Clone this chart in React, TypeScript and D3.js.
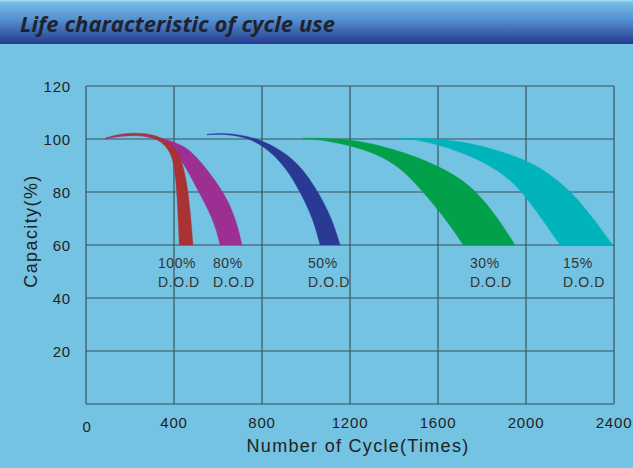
import React from 'react';
import * as d3 from 'd3';

// ---------- data ----------
const xTicks = [0, 400, 800, 1200, 1600, 2000, 2400];
const yTicks = [20, 40, 60, 80, 100, 120];
const gridX = [0, 400, 800, 1200, 1600, 2000, 2400];
const gridY = [0, 20, 40, 60, 80, 100, 120];

const dodNames = ['100%', '80%', '50%', '30%', '15%'];
const labelCycle = [327, 577, 1009, 1745, 2168];

const dod100Outer = [[86, 100.3], [150, 101.9], [236, 102.4], [310, 101.6], [360, 99.6], [405, 96.6], [432, 92.8], [452, 86], [464, 80], [477, 70], [486, 60]];
const dod100Inner = [[86, 100.1], [150, 101.4], [236, 101.8], [300, 100.8], [340, 99], [373, 96.3], [393, 92.8], [405, 87], [413, 80], [419, 70], [424, 60]];

const dod80Outer = [[90, 100.3], [170, 101.6], [236, 101.9], [320, 100.9], [380, 99.5], [430, 97.8], [459, 96.5], [505, 93], [565, 87], [623, 80], [660, 74], [690, 67], [709, 60]];
const dod80Inner = [[90, 100.1], [170, 101.2], [236, 101.4], [300, 100.5], [350, 99], [390, 96.8], [427, 92.8], [470, 86.8], [509, 80.5], [545, 75], [573, 70], [595, 65], [609, 60]];

const dod50Outer = [[550, 101.8], [620, 102.3], [700, 101.6], [782, 100], [860, 97], [936, 92.8], [1000, 87], [1055, 80], [1118, 70], [1155, 60]];
const dod50Inner = [[550, 101.6], [620, 101.9], [700, 101.0], [745, 100], [810, 97], [868, 92.8], [925, 87], [973, 80], [1032, 70], [1064, 60]];

const dod30Outer = [[985, 100.3], [1100, 100.3], [1200, 99.7], [1300, 98.3], [1400, 96.0], [1500, 93.3], [1600, 89.8], [1700, 85.2], [1780, 79.7], [1870, 70.5], [1950, 60]];
const dod30Inner = [[985, 100.1], [1060, 99.8], [1200, 97.6], [1300, 94.9], [1385, 91.5], [1460, 86.7], [1533, 79.9], [1632, 70.1], [1715, 60]];

const dod15Outer = [[1427, 100.3], [1550, 100.3], [1700, 99.2], [1836, 96.6], [2000, 92.2], [2105, 87], [2208, 80], [2306, 70], [2394, 60]];
const dod15Inner = [[1427, 100.1], [1500, 99.8], [1600, 97.8], [1700, 95.2], [1800, 91.6], [1880, 87.6], [1940, 83.6], [1990, 79.2], [2071, 70], [2155, 60]];

const bandOuters = [dod100Outer, dod80Outer, dod50Outer, dod30Outer, dod15Outer];
const bandInners = [dod100Inner, dod80Inner, dod50Inner, dod30Inner, dod15Inner];
const bandColors = ['#a83234', '#9c2f92', '#2a3a94', '#03a04b', '#01b4bb'];

// ---------- layout ----------
const W = 633;
const H = 468;
const x = d3.scaleLinear().domain([0, 2400]).range([86, 614]);
const y = d3.scaleLinear().domain([0, 120]).range([404, 86]);

const line = d3
  .line<number[]>()
  .x((d) => x(d[0]))
  .y((d) => y(d[1]))
  .curve(d3.curveBasis);

function bandPath(outer: number[][], inner: number[][]) {
  const a = line(outer) || '';
  const b = line([...inner].reverse()) || '';
  return a + 'L' + b.slice(1) + 'Z';
}

const FONT = '"Liberation Sans", Arial, sans-serif';
const GRID = '#3b515b';
const TXT = '#222';

export default function App() {
  const drawOrder = [4, 3, 2, 1, 0];
  return (
    <svg
      width={W}
      height={H}
      style={{ position: 'absolute', left: 0, top: 0, display: 'block' }}
    >
      <defs>
        <linearGradient id="titleGrad" x1="0" y1="0" x2="0" y2="1">
          <stop offset="0" stopColor="#a9dcf4" />
          <stop offset="0.06" stopColor="#76bde9" />
          <stop offset="0.45" stopColor="#5290cf" />
          <stop offset="1" stopColor="#27398e" />
        </linearGradient>
      </defs>
      <rect x={0} y={0} width={W} height={H} fill="#74c3e2" />
      <rect x={0} y={0} width={W} height={44} fill="url(#titleGrad)" />
      <text
        x={20}
        y={32}
        fontFamily='"Open Sans", Lato, sans-serif'
        fontWeight="bold"
        fontStyle="italic"
        fontSize={22}
        textLength={315}
        lengthAdjust="spacing"
        fill="#1f2230"
      >
        Life characteristic of cycle use
      </text>

      {/* grid */}
      {gridY.map((v) => (
        <line key={'gy' + v} x1={x(0)} x2={x(2400)} y1={y(v)} y2={y(v)} stroke={GRID} strokeWidth={1.2} />
      ))}
      {gridX.map((v) => (
        <line key={'gx' + v} x1={x(v)} x2={x(v)} y1={y(0)} y2={y(120)} stroke={GRID} strokeWidth={1.2} />
      ))}

      {/* bands */}
      {drawOrder.map((i) => (
        <path key={'b' + i} d={bandPath(bandOuters[i], bandInners[i])} fill={bandColors[i]} stroke={bandColors[i]} strokeWidth={0.4} />
      ))}

      {/* DOD labels */}
      {dodNames.map((n, i) => (
        <g key={'l' + i} fontFamily={FONT} fontSize={14} fill="#333" letterSpacing={0.6}>
          <text x={x(labelCycle[i])} y={268}>{n}</text>
          <text x={x(labelCycle[i])} y={287}>D.O.D</text>
        </g>
      ))}

      {/* y tick labels */}
      {yTicks.map((v) => (
        <text key={'yt' + v} x={71} y={y(v) + 6} textAnchor="end" fontFamily={FONT} fontSize={15} letterSpacing={0.8} fill={TXT}>
          {v}
        </text>
      ))}
      {/* x tick labels */}
      {xTicks.map((v, i) => (
        <text key={'xt' + v} x={x(v) + (i === 0 ? 1 : 0)} y={i === 0 ? 432 : 428} textAnchor="middle" fontFamily={FONT} fontSize={15} letterSpacing={0.8} fill={TXT}>
          {v}
        </text>
      ))}

      <text x={358} y={452} textAnchor="middle" fontFamily={FONT} fontSize={18} letterSpacing={1.3} fill={TXT}>
        Number of Cycle(Times)
      </text>
      <text
        transform="translate(37,231) rotate(-90)"
        textAnchor="middle"
        fontFamily={FONT}
        fontSize={18}
        letterSpacing={1.4}
        fill={TXT}
      >
        Capacity(%)
      </text>
    </svg>
  );
}
